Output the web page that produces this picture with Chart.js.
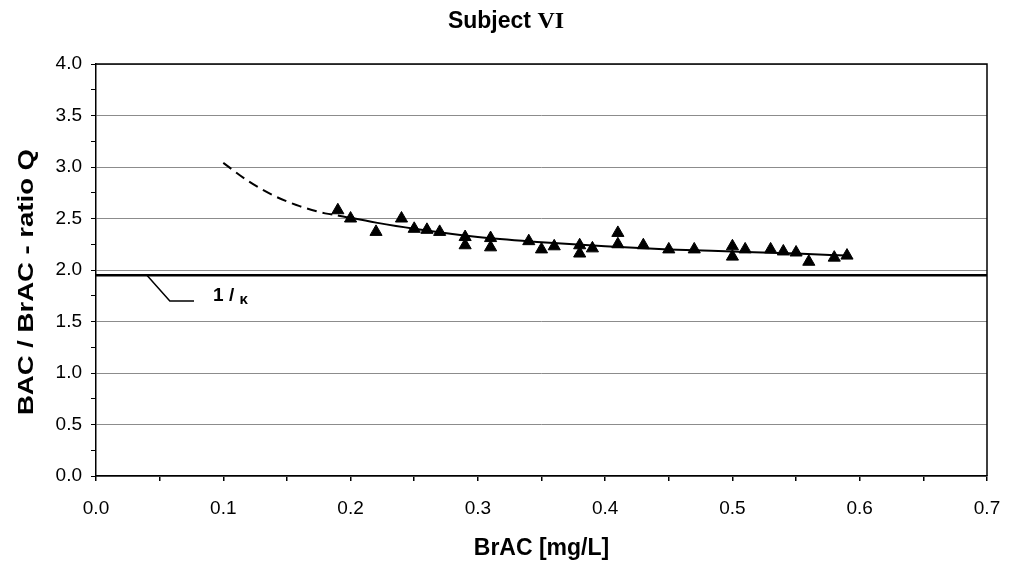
<!DOCTYPE html>
<html>
<head>
<meta charset="utf-8">
<script src="https://cdn.jsdelivr.net/npm/chart.js@4"></script>
<style>html,body{margin:0;padding:0;background:#fff}</style>
</head>
<body>
<canvas id="canvas" width="1013" height="567"></canvas>
<script>
// measured points: BrAC vs BAC/BrAC ratio Q
var brac  = [0.19, 0.20, 0.22, 0.24, 0.25, 0.26, 0.27, 0.29, 0.29, 0.31, 0.31, 0.34, 0.35, 0.36, 0.38, 0.38,
             0.39, 0.41, 0.41, 0.43, 0.45, 0.47, 0.50, 0.50, 0.51, 0.53, 0.54, 0.55, 0.56, 0.58, 0.59];
var ratio = [2.58, 2.50, 2.37, 2.50, 2.40, 2.39, 2.37, 2.32, 2.24, 2.31, 2.22, 2.28, 2.20, 2.23, 2.24, 2.16,
             2.21, 2.36, 2.25, 2.24, 2.20, 2.20, 2.23, 2.13, 2.20, 2.20, 2.18, 2.17, 2.08, 2.12, 2.14];

// fitted curve, dashed part (extrapolated) and solid part
var dashX = [0.10, 0.12, 0.14, 0.16, 0.18, 0.19];
var dashY = [3.04, 2.86, 2.72, 2.62, 2.55, 2.53];
var fitX  = [0.19, 0.22, 0.25, 0.30, 0.35, 0.40, 0.45, 0.50, 0.55, 0.59];
var fitY  = [2.53, 2.46, 2.40, 2.32, 2.27, 2.23, 2.20, 2.18, 2.16, 2.14];

// 1/kappa reference line and its label leader
var kappaX = [0, 0.7];
var kappaY = [1.95, 1.95];
var leaderX = [0.04, 0.058, 0.077];
var leaderY = [1.95, 1.70, 1.70];

function pts(xs, ys) {
    return xs.map(function(x, i) { return {x: x, y: ys[i]}; });
}

var extras = {
    id: 'extras',
    afterDatasetsDraw: function(chart) {
        var ctx = chart.ctx, a = chart.chartArea;
        ctx.save();
        ctx.strokeStyle = '#000';
        ctx.lineWidth = 1.5;
        ctx.beginPath();
        ctx.moveTo(a.left, a.top);
        ctx.lineTo(a.right, a.top);
        ctx.lineTo(a.right, a.bottom);
        ctx.stroke();

        // "1 / κ" label
        var lx = chart.scales.x.getPixelForValue(0.092);
        var ly = chart.scales.y.getPixelForValue(1.70);
        ctx.fillStyle = '#000';
        ctx.textBaseline = 'alphabetic';
        ctx.textAlign = 'left';
        ctx.font = 'bold 19px "Liberation Sans"';
        ctx.fillText('1 /', lx, ly);
        var w = ctx.measureText('1 / ').width;
        ctx.font = 'bold 15px "Liberation Sans"';
        ctx.fillText('κ', lx + w, ly + 3);

        // title: "Subject" sans, "VI" serif
        var f1 = 'bold 23px "Liberation Sans"', f2 = 'bold 24px "Liberation Serif"';
        ctx.font = f1;
        var w1 = ctx.measureText('Subject ').width;
        ctx.font = f2;
        var w2 = ctx.measureText('VI').width;
        var tx = 506 - (w1 + w2) / 2;
        ctx.font = f1;
        ctx.fillText('Subject ', tx, 28);
        ctx.font = f2;
        ctx.fillText('VI', tx + w1, 28);

        // y axis title
        ctx.translate(33, 282);
        ctx.rotate(-Math.PI / 2);
        ctx.font = 'bold 22px "Liberation Sans"';
        ctx.textAlign = 'center';
        var yt = 'BAC / BrAC - ratio Q';
        var s = 266 / ctx.measureText(yt).width;
        ctx.scale(s, 1);
        ctx.fillText(yt, 0, 0);
        ctx.restore();
    }
};

window.onload = function() {
    var ctx = document.getElementById('canvas').getContext('2d');
    window.myChart = new Chart(ctx, {
        type: 'scatter',
        data: {
            datasets: [{
                label: 'Q',
                data: pts(brac, ratio),
                pointStyle: 'triangle',
                pointRadius: 7,
                backgroundColor: '#000',
                borderColor: '#000',
                borderWidth: 1,
                order: 0
            }, {
                label: 'fit',
                data: pts(fitX, fitY),
                showLine: true,
                cubicInterpolationMode: 'monotone',
                pointRadius: 0,
                borderColor: '#000',
                borderWidth: 2,
                order: 1
            }, {
                label: 'fit extrapolated',
                data: pts(dashX, dashY),
                showLine: true,
                cubicInterpolationMode: 'monotone',
                pointRadius: 0,
                borderColor: '#000',
                borderWidth: 2,
                borderDash: [10, 6],
                order: 2
            }, {
                label: '1/kappa',
                data: pts(kappaX, kappaY),
                showLine: true,
                pointRadius: 0,
                borderColor: '#000',
                borderWidth: 2.5,
                order: 3
            }, {
                label: 'leader',
                data: pts(leaderX, leaderY),
                showLine: true,
                pointRadius: 0,
                borderColor: '#000',
                borderWidth: 1.5,
                order: 4
            }]
        },
        options: {
            responsive: false,
            animation: false,
            events: [],
            layout: {padding: {top: 64, right: 26, left: 0, bottom: 0}},
            plugins: {
                legend: {display: false},
                tooltip: {enabled: false},
                title: {display: false}
            },
            scales: {
                x: {
                    type: 'linear',
                    min: 0,
                    max: 0.7,
                    afterFit: function(s) { s.height = 91; },
                    border: {color: '#000', width: 1.5},
                    grid: {drawOnChartArea: false, tickLength: 5, color: '#000', tickColor: '#000', lineWidth: 1.5},
                    ticks: {
                        stepSize: 0.05,
                        autoSkip: false,
                        maxRotation: 0,
                        padding: 7,
                        color: '#000',
                        font: {family: '"Liberation Sans"', size: 19, lineHeight: 2.15},
                        callback: function(v) {
                            return Math.round(v * 100) % 10 === 0 ? v.toFixed(1) : '';
                        }
                    },
                    title: {
                        display: true,
                        text: 'BrAC [mg/L]',
                        color: '#000',
                        font: {family: '"Liberation Sans"', size: 23, weight: 'bold'},
                        padding: {top: 0, bottom: 5}
                    }
                },
                y: {
                    type: 'linear',
                    min: 0,
                    max: 4,
                    afterFit: function(s) { s.width = 96; },
                    border: {color: '#000', width: 1.5},
                    grid: {
                        tickLength: 5,
                        lineWidth: 1,
                        tickColor: '#000',
                        color: function(c) {
                            return c.tick && Math.round(c.tick.value * 100) % 50 === 0 ? '#8c8c8c' : 'rgba(0,0,0,0)';
                        }
                    },
                    ticks: {
                        stepSize: 0.25,
                        autoSkip: false,
                        padding: 9,
                        color: '#000',
                        font: {family: '"Liberation Sans"', size: 19},
                        callback: function(v) {
                            return Math.round(v * 100) % 50 === 0 ? v.toFixed(1) : '';
                        }
                    }
                }
            }
        },
        plugins: [extras]
    });
};
</script>
</body>
</html>
